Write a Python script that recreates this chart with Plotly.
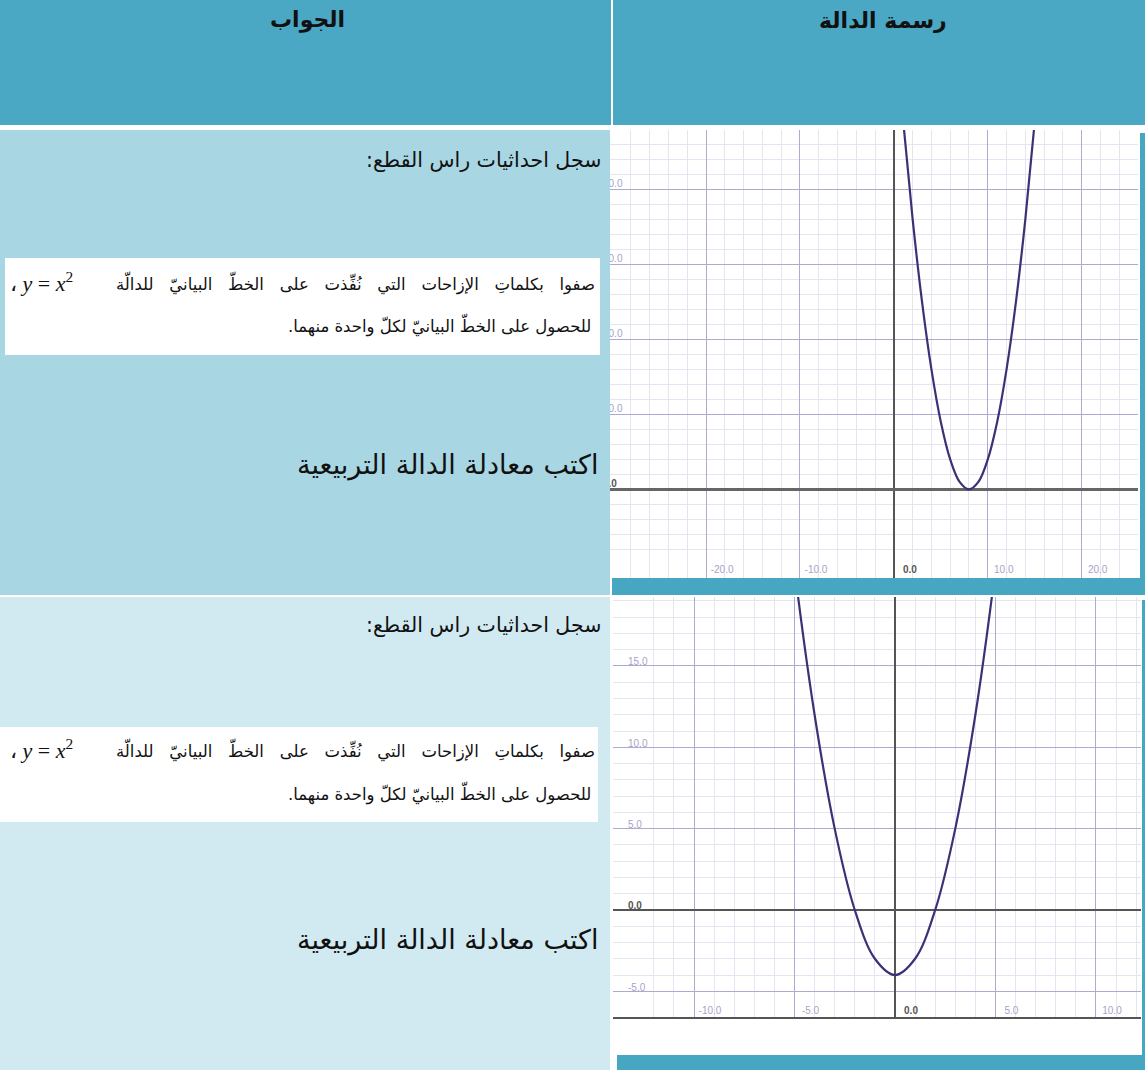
import plotly.graph_objects as go

W, H = 1145, 1070


def px(x):
    return x / W


def py(y):
    return 1 - y / H


# ---------------- data ----------------
g1_x = [0, 1, 2, 3, 4, 5, 6, 7, 8, 9, 10, 11, 12, 13, 14, 15, 16]
g1_y = [64, 49, 36, 25, 16, 9, 4, 1, 0, 1, 4, 9, 16, 25, 36, 49, 64]
g2_x = [-6, -5, -4, -3, -2, -1, 0, 1, 2, 3, 4, 5, 6]
g2_y = [32, 21, 12, 5, 0, -3, -4, -3, 0, 5, 12, 21, 32]

g1_xticks = [-20, -10, 0, 10, 20]
g1_yticks = [-10, 0, 10, 20, 30, 40]
g2_xticks = [-10, -5, 0, 5, 10]
g2_yticks = [-5, 0, 5, 10, 15]

header_answer = "الجواب"
header_graph = "رسمة الدالة"
prompt_vertex = "سجل احداثيات راس القطع:\u200f"
prompt_shift_1 = "صفوا بكلماتِ الإزاحات التي نُفِّذت على الخطّ البيانيّ للدالّة"
prompt_shift_math = "،\u00a0<i>y</i> = <i>x</i><sup>2</sup>"
prompt_shift_2 = "للحصول على الخطّ البيانيّ لكلّ واحدة منهما.\u200f"
prompt_equation = "اكتب معادلة الدالة التربيعية"

# ---------------- styles ----------------
HEADER = "#4aa8c5"
ROW1 = "#a9d6e3"
ROW2 = "#d1eaf1"
BAR = "#47a7c3"
GRID = "#acaad0"
MINOR = "#e5e5f1"
CURVE = "#3b3276"
TICKC = "#a5a5c6"
AR_FONT = "DejaVu Sans, Arial, sans-serif"


def ticktext(vals):
    out = []
    for v in vals:
        s = f"{v:.1f}"
        if v == 0:
            s = f"<b><span style='color:#555555'>{s}</span></b>"
        out.append(s)
    return out


def axis(domain, rng, ticks, minor_dt, anchor, zl_color, zl_width, shift, standoff=0, **kw):
    d = dict(
        domain=domain, range=rng, anchor=anchor,
        tickmode="array", tickvals=ticks, ticktext=ticktext(ticks),
        showgrid=True, gridcolor=GRID, gridwidth=1,
        zeroline=True, zerolinecolor=zl_color, zerolinewidth=zl_width,
        ticks="", ticklabelposition="inside",
        ticklabelshift=shift, ticklabelstandoff=standoff,
        tickfont=dict(family="Arial, Liberation Sans", size=10, color=TICKC),
        showline=False, fixedrange=True,
        minor=dict(tickmode="linear", tick0=0, dtick=minor_dt, showgrid=True,
                   gridcolor=MINOR, gridwidth=1),
    )
    d.update(kw)
    return d


fig = go.Figure()
fig.add_trace(go.Scatter(x=g1_x, y=g1_y, mode="lines",
                         line=dict(color=CURVE, width=2.2, shape="spline"),
                         xaxis="x", yaxis="y", hoverinfo="skip", showlegend=False))
fig.add_trace(go.Scatter(x=g2_x, y=g2_y, mode="lines",
                         line=dict(color=CURVE, width=2.2, shape="spline"),
                         xaxis="x2", yaxis="y2", hoverinfo="skip", showlegend=False))

shapes = []


def rect(x0, y0, x1, y1, color, layer="above"):
    shapes.append(dict(type="rect", xref="paper", yref="paper",
                       x0=px(x0), x1=px(x1), y0=py(y1), y1=py(y0),
                       fillcolor=color, line=dict(width=0), layer=layer))


# header cells
rect(0, 0, 611, 125, HEADER)
rect(613, 0, 1145, 125, HEADER)
# left panels
rect(0, 130, 610, 595, ROW1)
rect(0, 597, 610, 1070, ROW2)
# white text boxes
rect(5, 258, 600, 355, "white")
rect(0, 727, 598, 822, "white")
# teal bars around graphs
rect(1140, 133, 1145, 578, BAR)
rect(612, 578, 1145, 595, BAR)
rect(1142, 600, 1145, 1055, BAR)
rect(617, 1055, 1145, 1070, BAR)

annotations = []


def text(x, y, s, size, anchor="right", bold=False, family=AR_FONT):
    if bold:
        s = f"<b>{s}</b>"
    annotations.append(dict(xref="paper", yref="paper", x=px(x), y=py(y),
                            text=s, showarrow=False, xanchor=anchor, yanchor="middle",
                            font=dict(family=family, size=size, color="#111111")))


text(307, 20, header_answer, 22, anchor="center", bold=True)
text(883, 20, header_graph, 22, anchor="center", bold=True)

# justified first line of the boxed paragraph
justified_1 = (" " + "\u00a0" * 2).join(prompt_shift_1.split(" "))

for (y_v, y_l1, y_l2, y_eq) in [(160, 283, 325, 465), (625, 750, 793, 940)]:
    text(603, y_v, prompt_vertex, 20.5)
    text(597, y_l1, justified_1, 16.5)
    text(8, y_l1 - 1, prompt_shift_math, 22, anchor="left",
         family="Liberation Serif, Times New Roman, serif")
    text(593, y_l2, prompt_shift_2, 16.5)
    text(600, y_eq, prompt_equation, 27)

fig.update_layout(
    width=W, height=H,
    margin=dict(l=0, r=0, t=0, b=0),
    paper_bgcolor="white", plot_bgcolor="white",
    showlegend=False,
    xaxis=axis([px(600), px(1138)], [-31.3, 26.0], g1_xticks, 2, "y", "#555555", 2, 16),
    yaxis=axis([py(578), py(130)], [-11.8, 47.9], g1_yticks, 2, "x", "#666666", 3, -6),
    xaxis2=axis([px(613), px(1141)], [-14.03, 12.24], g2_xticks, 1, "y2", "#555555", 1.5, 16,
                showline=True, linecolor="#555555", linewidth=2),
    yaxis2=axis([py(1017), py(597)], [-6.58, 19.24], g2_yticks, 1, "x2", "#555555", 1.5, -4, 12),
    shapes=shapes,
    annotations=annotations,
)

fig.write_html("out.html", config={"displayModeBar": False},
               post_script="document.body.style.margin='0px';")
